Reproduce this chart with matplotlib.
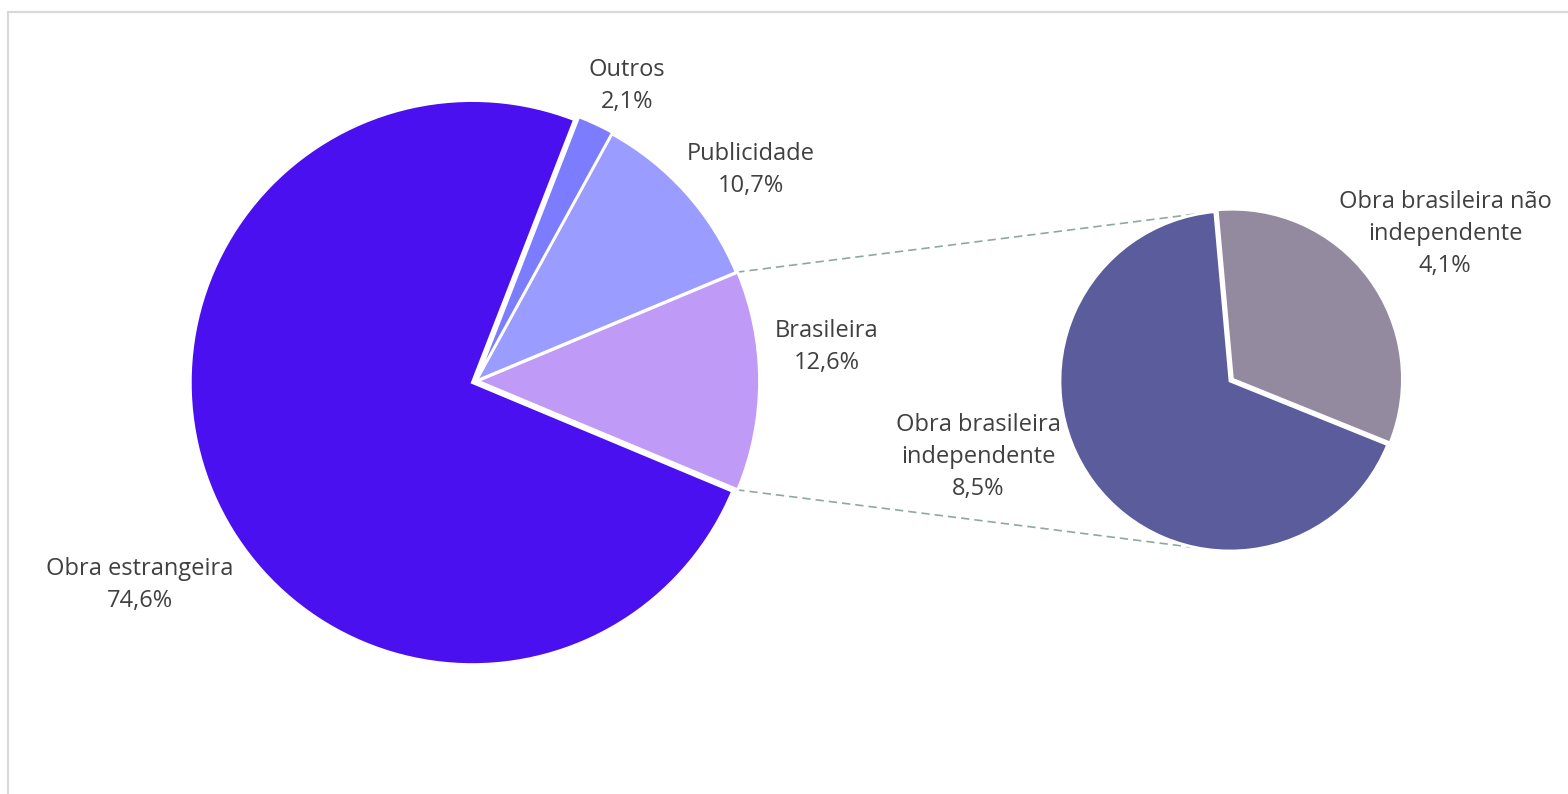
import matplotlib
matplotlib.use("Agg")
import matplotlib.pyplot as plt
from matplotlib.patches import Rectangle
import numpy as np

plt.rcParams['font.family'] = ['Open Sans', 'DejaVu Sans']

# Data
main_labels = ["Brasileira", "Publicidade", "Outros", "Obra estrangeira"]
main_values = [12.6, 10.7, 2.1, 74.6]
main_colors = ["#BF9BF7", "#9B9CFF", "#7C7CFF", "#4A10F0"]

sub_labels = ["Obra brasileira não\nindependente", "Obra brasileira\nindependente"]
sub_values = [4.1, 8.5]
sub_colors = ["#948AA0", "#5A5C9C"]

W, H = 1568, 794
fig = plt.figure(figsize=(W / 100, H / 100), dpi=100)
ax = fig.add_axes([0, 0, 1, 1])
ax.set_xlim(0, W)
ax.set_ylim(0, H)
ax.set_aspect('equal')
ax.axis('off')

def fmt(v):
    return f"{v:.1f}".replace(".", ",") + "%"

# Main pie (explode given in pixel units since data units are pixels)
c1 = (476, H - 381)
r1 = 282
start1 = -main_values[0] / sum(main_values) * 360 / 2
ax.pie(main_values, colors=main_colors, center=c1, radius=r1,
       startangle=start1, counterclock=True,
       explode=[1.5, 0, 1.5, 4],
       wedgeprops=dict(edgecolor='white', linewidth=2.0))

# Secondary pie
c2 = (1230, H - 381)
r2 = 170
ax.pie(sub_values, colors=sub_colors, center=c2, radius=r2,
       startangle=-22, counterclock=True,
       explode=[3, 0],
       wedgeprops=dict(edgecolor='white', linewidth=2.0))

ax.set_xlim(0, W)
ax.set_ylim(0, H)

# Connector lines
a_top = np.deg2rad(-start1)
a_bot = np.deg2rad(start1)
p1 = (c1[0] + r1 * np.cos(a_top), c1[1] + r1 * np.sin(a_top))
p2 = (c1[0] + r1 * np.cos(a_bot), c1[1] + r1 * np.sin(a_bot))
q1 = (c2[0] + r2 * np.cos(np.deg2rad(97)), c2[1] + r2 * np.sin(np.deg2rad(97)))
q2 = (c2[0] + r2 * np.cos(np.deg2rad(259)), c2[1] + r2 * np.sin(np.deg2rad(259)))
for p, q in [(p1, q1), (p2, q2)]:
    ax.plot([p[0], q[0]], [p[1], q[1]], color="#8FAA9C", lw=1.2,
            linestyle=(0, (5, 3)), zorder=0)

# Labels
tc = "#404040"
fs = 17
def lab(x, y, s):
    ax.text(x, H - y, s, ha='center', va='center', fontsize=fs, color=tc,
            linespacing=1.45)

lab(627, 86, f"{main_labels[2]}\n{fmt(main_values[2])}")
lab(751, 170, f"{main_labels[1]}\n{fmt(main_values[1])}")
lab(827, 347, f"{main_labels[0]}\n{fmt(main_values[0])}")
lab(140, 585, f"{main_labels[3]}\n{fmt(main_values[3])}")
lab(978, 457, f"{sub_labels[1]}\n{fmt(sub_values[1])}")
lab(1445, 234, f"{sub_labels[0]}\n{fmt(sub_values[0])}")

# Frame
fig.patches.append(Rectangle((8 / W, (H - 12) / H), 2, -2, transform=fig.transFigure,
                             fill=False, edgecolor="#D9D9D9", lw=1.5))
fig.patches.append(Rectangle((8 / W, -1), 2, (H - 12) / H + 1, transform=fig.transFigure,
                             fill=False, edgecolor="#D9D9D9", lw=1.5))

fig.savefig("out.png", dpi=100)
